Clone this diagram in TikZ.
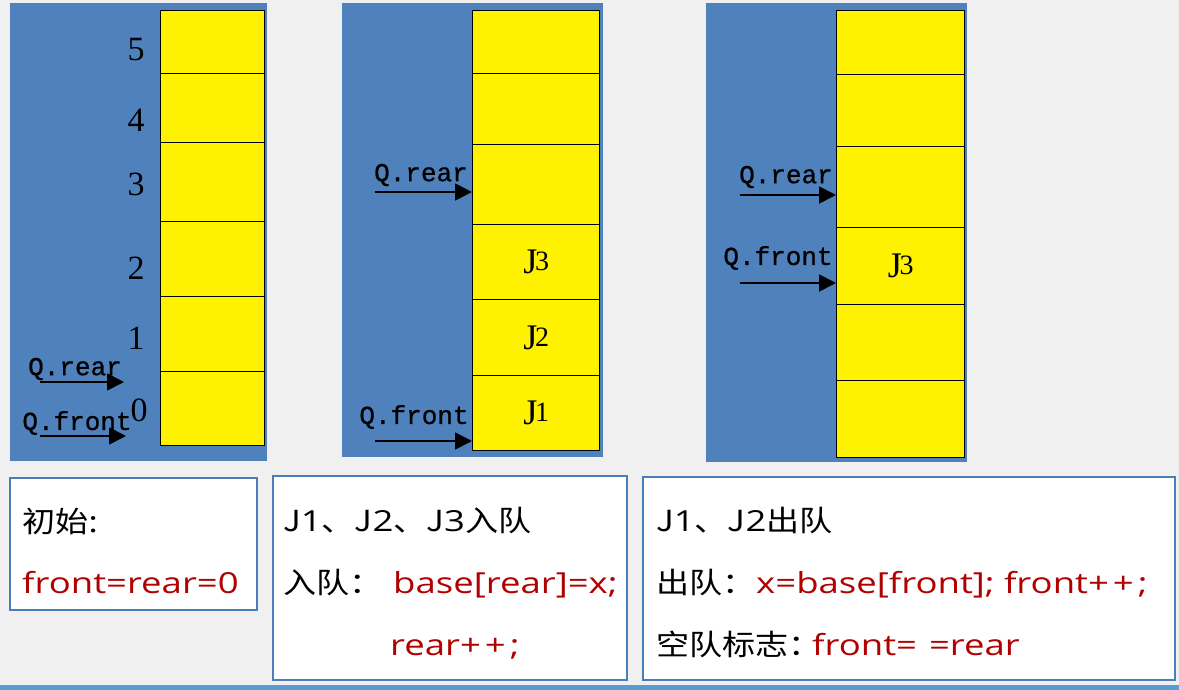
\documentclass[tikz,border=0pt]{standalone}
\usepackage{fontspec}
\usetikzlibrary{arrows.meta}
\setmainfont{Liberation Serif}
\newfontfamily\cjk[FakeStretch=1.14]{Noto Sans CJK SC}
\newfontfamily\lat[FakeStretch=1.26]{Open Sans}
\newfontfamily\qmono[FakeBold=0.8]{Liberation Mono}
\definecolor{bggray}{HTML}{F0F0F0}
\definecolor{panelblue}{HTML}{4F81BD}
\definecolor{boxblue}{HTML}{4A7EBB}
\definecolor{codered}{HTML}{B00000}
\definecolor{lineblue}{HTML}{5B9BD5}
\newcommand{\qcell}[6]{\node[cellbox, minimum width=#4pt-#2pt, minimum height=#5pt-#3pt, anchor=north west] (#1) at (#2,#3) {#6};}
\newcommand{\jlab}[1]{\raisebox{-3pt}{\fontsize{36}{36}\selectfont J}\kern-0.22em{\fontsize{28}{28}\selectfont #1}}
\newcommand{\C}[1]{{\cjk #1}}
\begin{document}
\begin{tikzpicture}[x=1pt,y=-1pt,
  cellbox/.style={draw=black, line width=1.4pt, fill=yellow, inner sep=0pt},
  panel/.style={fill=panelblue, draw=none},
  idx/.style={font=\fontsize{34}{34}\selectfont, inner sep=0pt},
  qlab/.style={font=\qmono\fontsize{26}{26}\selectfont, inner sep=0pt},
  ptr/.style={line width=1.8pt, -{Triangle[length=17pt,width=17pt]}},
  infobox/.style={draw=boxblue, line width=1.5pt, fill=white},
  txt/.style={font=\lat\fontsize{29}{29}\selectfont, inner sep=0pt, anchor=base west},
  red/.style={text=codered}]
\useasboundingbox (0,0) rectangle (1179,690);
\fill[bggray] (0,0) rectangle (1179,690);
\fill[lineblue] (0,685) rectangle (1179,690);

% ---- panel 1
\fill[panel] (10,3) rectangle (267,461);
\qcell{a5}{160}{10}{264}{73}{}
\qcell{a4}{160}{73}{264}{142}{}
\qcell{a3}{160}{142}{264}{221}{}
\qcell{a2}{160}{221}{264}{296}{}
\qcell{a1}{160}{296}{264}{371}{}
\qcell{a0}{160}{371}{264}{445}{}
\node[idx] (n5) at (136,50) {5};
\node[idx] (n4) at (136,120) {4};
\node[idx] (n3) at (136,184) {3};
\node[idx] (n2) at (136,268) {2};
\node[idx] (n1) at (136,338) {1};
\node[idx] (n0) at (139,410) {0};
\node[qlab] (ar) at (75,369) {Q.rear};
\node[qlab] (af) at (77,423) {Q.front};
\coordinate (ars) at (40,382);
\coordinate (are) at (124,382);
\coordinate (afs) at (40,436);
\coordinate (afe) at (126,436);
\draw[ptr] (ars) -- (are);
\draw[ptr] (afs) -- (afe);

% ---- panel 2
\fill[panel] (342,3) rectangle (603,457);
\qcell{b5}{472}{10}{599}{73}{}
\qcell{b4}{472}{73}{599}{144}{}
\qcell{b3}{472}{144}{599}{224}{}
\qcell{b2}{472}{224}{599}{299}{\jlab{3}}
\qcell{b1}{472}{299}{599}{375}{\jlab{2}}
\qcell{b0}{472}{375}{599}{450}{\jlab{1}}
\node[qlab] (br) at (421,175) {Q.rear};
\node[qlab] (bf) at (414,417) {Q.front};
\coordinate (brs) at (375,192);
\coordinate (bfs) at (375,441);
\draw[ptr] (brs) -- (brs -| b3.west);
\draw[ptr] (bfs) -- (bfs -| b0.west);

% ---- panel 3
\fill[panel] (706,3) rectangle (967,462);
\qcell{c5}{836}{10}{964}{74}{}
\qcell{c4}{836}{74}{964}{146}{}
\qcell{c3}{836}{146}{964}{227}{}
\qcell{c2}{836}{227}{964}{304}{\jlab{3}}
\qcell{c1}{836}{304}{964}{380}{}
\qcell{c0}{836}{380}{964}{457}{}
\node[qlab] (cr) at (786,177) {Q.rear};
\node[qlab] (cf) at (778,258) {Q.front};
\coordinate (crs) at (740,195);
\coordinate (cfs) at (740,283);
\draw[ptr] (crs) -- (crs -| c3.west);
\draw[ptr] (cfs) -- (cfs -| c2.west);

% ---- info boxes
\draw[infobox] (10,478) rectangle (257,610);
\draw[infobox] (273,476) rectangle (627,680);
\draw[infobox] (643,477) rectangle (1175,680);

\node[txt] (t1a) at (22,532) {\C{初始}:};
\node[txt, red] (t1b) at (22,593) {front=rear=0};

\node[txt] (t2a) at (283,531) {\C{J}1\C{、J}2\C{、J}3\C{入队}};
\node[txt] (t2b) at (283,593) {\C{入队：}};
\node[txt, red] (t2c) at (393,593) {base[rear]=x;};
\node[txt, red] (t2d) at (390,655) {rear+\kern4pt+\kern4pt;};

\node[txt] (t3a) at (656,531) {\C{J}1\C{、J}2\C{出队}};
\node[txt] (t3b) at (656,593) {\C{出队：}};
\node[txt, red] (t3c) at (756,593) {x=base[front]; front+\kern4pt+\kern4pt;};
\node[txt] (t3d) at (656,655) {\C{空队标志：}};
\node[txt, red] (t3e) at (812,655) {front=\kern12pt=rear};
\end{tikzpicture}
\end{document}
